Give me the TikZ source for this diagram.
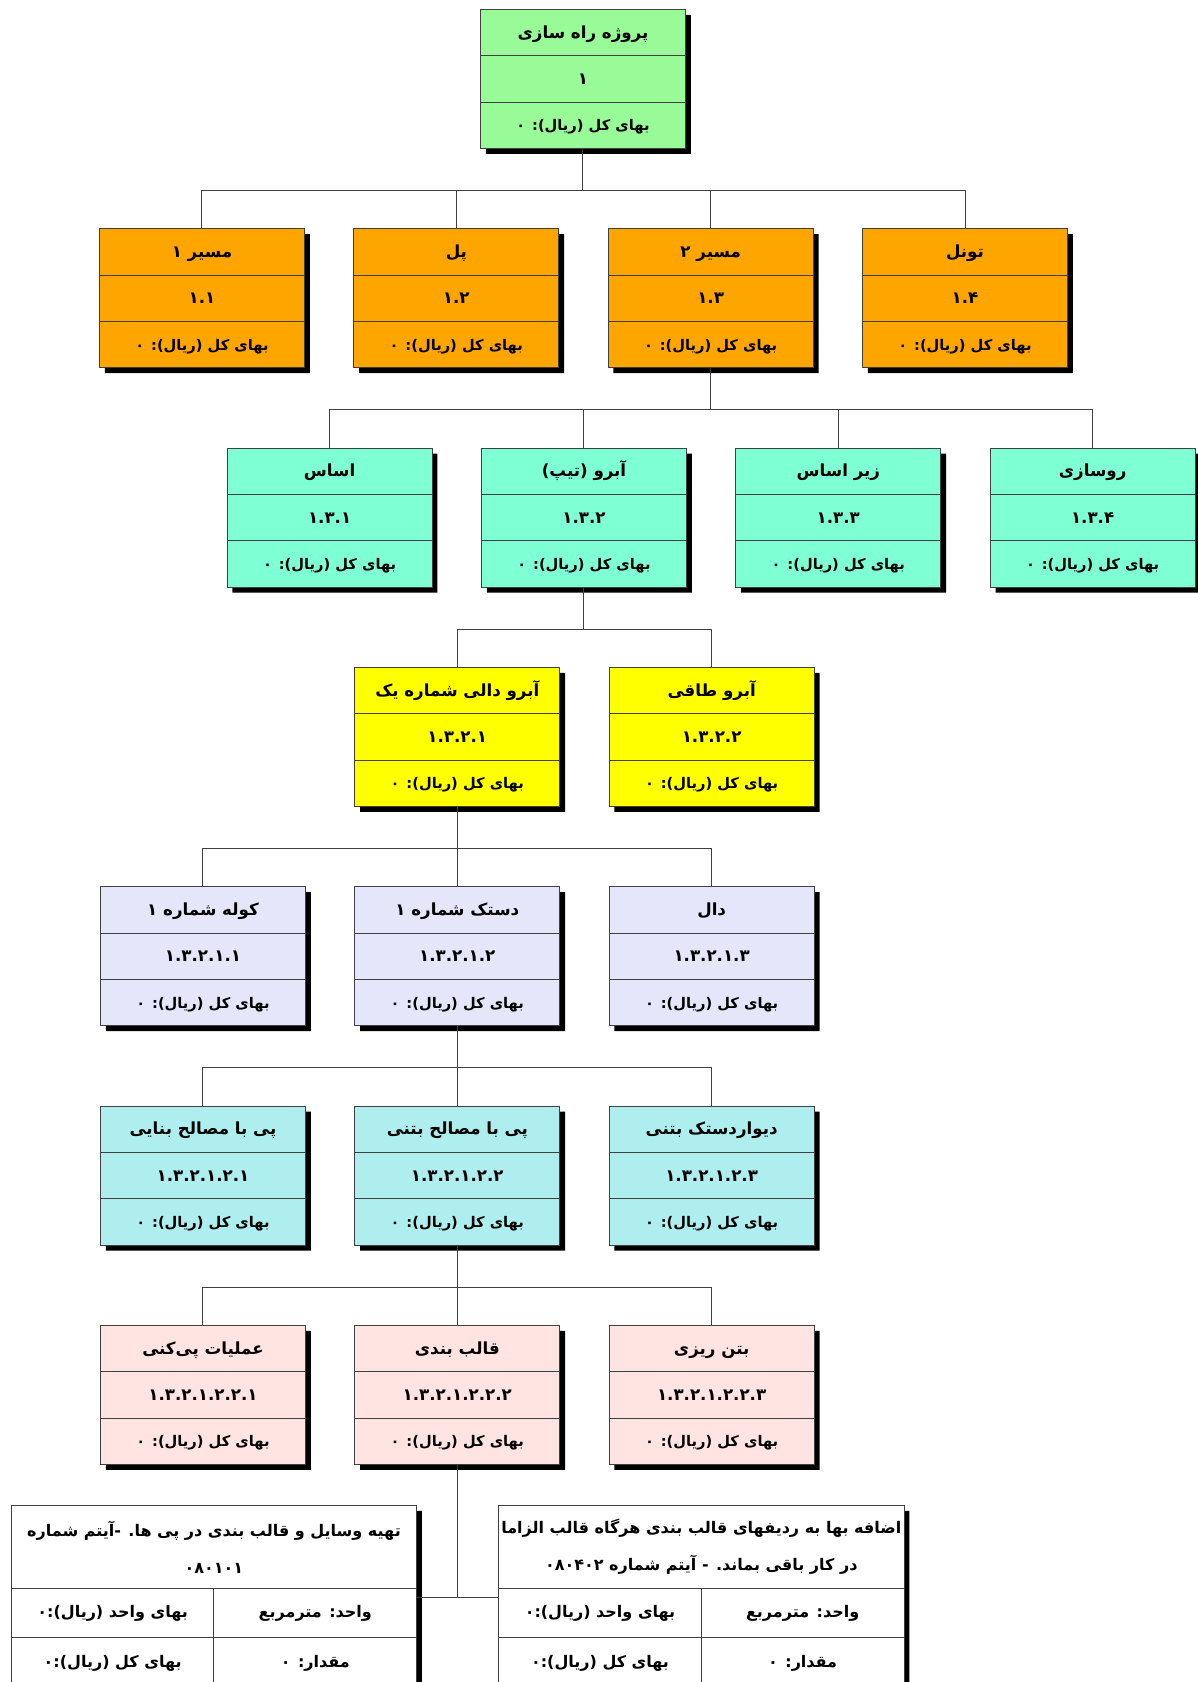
\documentclass[tikz,border=0pt]{standalone}
\usepackage{fontspec}
\setmainfont{DejaVu Sans}
\newfontfamily\farsi[Script=Arabic]{DejaVu Sans}
\TeXXeTstate=1
\usetikzlibrary{positioning,shapes.multipart,shadows}
\definecolor{rootgreen}{HTML}{98FB98}
\definecolor{wbsorange}{HTML}{FFA500}
\definecolor{wbsaqua}{HTML}{7FFFD4}
\definecolor{wbsyellow}{HTML}{FFFF00}
\definecolor{wbslavender}{HTML}{E6E6FA}
\definecolor{wbsturq}{HTML}{AFEEEE}
\definecolor{wbsrose}{HTML}{FFE4E1}
\newcommand{\wbsstrut}{\rule[-13pt]{0pt}{34pt}}
\newcommand{\wbs}[2]{\wbsstrut#1\nodepart{two}\wbsstrut#2\nodepart{three}\wbsstrut{\fontsize{11}{13}\selectfont\beginR بهای کل (ریال): ۰\endR}}
\newcommand{\itemhead}[2]{\parbox[c][61.5pt][c]{304pt}{\centering#1\\#2}}
\newcommand{\itemrow}[3]{\parbox[c][#1][c]{152pt}{\centering#2}\parbox[c][#1][c]{152pt}{\centering#3}}
\tikzset{main node/.style={rectangle split,rectangle split parts=3,draw=black!75,line width=0.75pt,
    minimum width=153.75pt,inner xsep=2pt,inner ysep=0pt,
    font=\farsi\bfseries\fontsize{12.5}{14}\selectfont,
    drop shadow={shadow xshift=4pt,shadow yshift=-4pt,fill=black,opacity=1}},
  item node/.style={rectangle split,rectangle split parts=3,draw=black!75,line width=0.75pt,
    fill=white,inner sep=0pt,font=\farsi\bfseries\fontsize{12}{27.75}\selectfont,
    drop shadow={shadow xshift=4pt,shadow yshift=-4pt,fill=black,opacity=1}},
  link/.style={draw=black!75,line width=0.75pt,
    to path={(\tikztostart.south) -- ++(0,-31pt) -| (\tikztotarget.north)}},
}

\begin{document}
\begin{tikzpicture}[node distance=36.25pt]
		\useasboundingbox (-437.25pt,59.25pt) rectangle (461.25pt,-1202.25pt);
		\node[main node,fill=rootgreen] (proj) {\wbs{\beginR پروژه راه سازی\endR}{۱}};
		
		\node[main node,fill=wbsorange] (pol) [below=59.5pt of proj,xshift=-95pt] {\wbs{\beginR پل\endR}{۱.۲}};
		\node[main node,fill=wbsorange] (m1) [left=of pol] {\wbs{\beginR مسیر ۱\endR}{۱.۱}};
		\node[main node,fill=wbsorange] (m2) [right=of pol] {\wbs{\beginR مسیر ۲\endR}{۱.۳}};
		\node[main node,fill=wbsorange] (tun) [right=of m2] {\wbs{\beginR تونل\endR}{۱.۴}};
		
		\node[main node,fill=wbsaqua] (abro) [below=59.5pt of m2,xshift=-95pt] {\wbs{\beginR آبرو (تیپ)\endR}{۱.۳.۲}};
		\node[main node,fill=wbsaqua] (asas) [left=of abro] {\wbs{\beginR اساس\endR}{۱.۳.۱}};
		\node[main node,fill=wbsaqua] (zir) [right=of abro] {\wbs{\beginR زیر اساس\endR}{۱.۳.۳}};
		\node[main node,fill=wbsaqua] (ru) [right=of zir] {\wbs{\beginR روسازی\endR}{۱.۳.۴}};
		
		\node[main node,fill=wbsyellow] (dali) [below=59.5pt of abro,xshift=-95pt] {\wbs{\beginR آبرو دالی شماره یک\endR}{۱.۳.۲.۱}};
		\node[main node,fill=wbsyellow] (taqi) [right=of dali] {\wbs{\beginR آبرو طاقی\endR}{۱.۳.۲.۲}};
		
		\node[main node,fill=wbslavender] (dastak) [below=59.5pt of dali] {\wbs{\beginR دستک شماره ۱\endR}{۱.۳.۲.۱.۲}};
		\node[main node,fill=wbslavender] (kole) [left=of dastak] {\wbs{\beginR کوله شماره ۱\endR}{۱.۳.۲.۱.۱}};
		\node[main node,fill=wbslavender] (dal) [right=of dastak] {\wbs{\beginR دال\endR}{۱.۳.۲.۱.۳}};
		
		\node[main node,fill=wbsturq] (pibeton) [below=59.5pt of dastak] {\wbs{\beginR پی با مصالح بتنی\endR}{۱.۳.۲.۱.۲.۲}};
		\node[main node,fill=wbsturq] (pibana) [left=of pibeton] {\wbs{\beginR پی با مصالح بنایی\endR}{۱.۳.۲.۱.۲.۱}};
		\node[main node,fill=wbsturq] (divar) [right=of pibeton] {\wbs{\beginR دیواردستک بتنی\endR}{۱.۳.۲.۱.۲.۳}};
		
		\node[main node,fill=wbsrose] (qaleb) [below=59.5pt of pibeton] {\wbs{\beginR قالب بندی\endR}{۱.۳.۲.۱.۲.۲.۲}};
		\node[main node,fill=wbsrose] (pikani) [left=of qaleb] {\wbs{\beginR عملیات پی‌کنی\endR}{۱.۳.۲.۱.۲.۲.۱}};
		\node[main node,fill=wbsrose] (beton) [right=of qaleb] {\wbs{\beginR بتن ریزی\endR}{۱.۳.۲.۱.۲.۲.۳}};
		
		\node[item node] (item1) [below=30pt of qaleb,xshift=-182.5pt]
		{\itemhead{\beginR تهیه وسایل و قالب بندی در پی ها. -آیتم شماره\endR}{۰۸۰۱۰۱}
		\nodepart{two}\itemrow{36pt}{\beginR بهای واحد (ریال):۰\endR}{\beginR واحد: مترمربع\endR}
		\nodepart{three}\itemrow{37.5pt}{\beginR بهای کل (ریال):۰\endR}{\beginR مقدار: ۰\endR}};
		\node[item node] (item2) [right=60.75pt of item1]
		{\itemhead{\beginR اضافه بها به ردیفهای قالب بندی هرگاه قالب الزاما\endR}{\beginR در کار باقی بماند. - آیتم شماره ۰۸۰۴۰۲\endR}
		\nodepart{two}\itemrow{36pt}{\beginR بهای واحد (ریال):۰\endR}{\beginR واحد: مترمربع\endR}
		\nodepart{three}\itemrow{37.5pt}{\beginR بهای کل (ریال):۰\endR}{\beginR مقدار: ۰\endR}};
		
		\path[link]
		(proj) edge (m1) edge (pol) edge (m2) edge (tun)
		(m2) edge (asas) edge (abro) edge (zir) edge (ru)
		(abro) edge (dali) edge (taqi)
		(dali) edge (kole) edge (dastak) edge (dal)
		(dastak) edge (pibana) edge (pibeton) edge (divar)
		(pibeton) edge (pikani) edge (qaleb) edge (beton);
		\draw[draw=black!75,line width=0.75pt] (item1.one split) -- (item1.south);
		\draw[draw=black!75,line width=0.75pt] (item2.one split) -- (item2.south);
		\draw[draw=black!75,line width=0.75pt] (qaleb.south) -- (qaleb.south |- item1.east);
		\draw[draw=black!75,line width=0.75pt] (item1.east) -- (item2.west);
		
	\end{tikzpicture}
\end{document}
